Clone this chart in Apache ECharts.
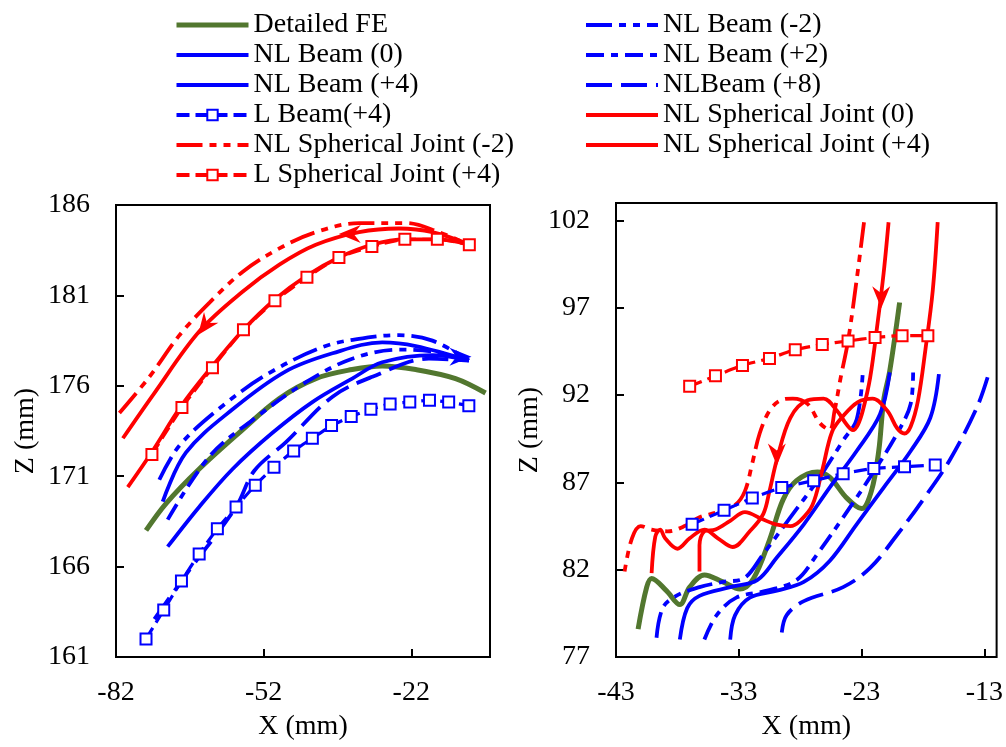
<!DOCTYPE html>
<html>
<head>
<meta charset="utf-8">
<script src="https://cdn.jsdelivr.net/npm/echarts@6/dist/echarts.min.js"></script>
<style>
html,body{margin:0;padding:0;background:#fff;}
#chart{width:1006px;height:747px;}
</style>
</head>
<body>
<div id="chart"></div>
<script>
// ---------- tick labels ----------
var xTicksL = [-82, -52, -22];
var yTicksL = [161, 166, 171, 176, 181, 186];
var xTicksR = [-43, -33, -23, -13];
var yTicksR = [77, 82, 87, 92, 97, 102];

// ---------- series names ----------
var names = ['Detailed FE', 'NL Beam (0)', 'NL Beam (+4)', 'L Beam(+4)', 'NL Spherical Joint (-2)', 'L Spherical Joint (+4)',
             'NL Beam (-2)', 'NL Beam (+2)', 'NLBeam (+8)', 'NL Spherical Joint (0)', 'NL Spherical Joint (+4)'];

// ---------- left panel data [X, Z] ----------
var feL = [[-75.9,168.0],[-71.8,169.5],[-65.1,171.4],[-57.0,173.4],[-48.8,175.3],[-41.4,176.4],[-34.0,176.9],[-27.9,177.1],[-21.1,176.9],[-13.0,176.4],[-6.9,175.6]];
var beamM2L = [[-73.2,170.8],[-69.1,172.7],[-60.3,174.9],[-50.9,176.7],[-39.4,178.2],[-29.9,178.7],[-24.5,178.8],[-17.7,178.5],[-10.3,177.4]];
var beam0L = [[-72.5,169.6],[-67.8,172.3],[-58.3,174.7],[-47.5,176.8],[-38.0,177.8],[-27.9,178.4],[-21.1,178.2],[-10.3,177.4]];
var beamP2L = [[-71.5,168.6],[-63.0,172.1],[-54.3,174.1],[-43.4,176.2],[-34.0,177.5],[-24.5,178.0],[-17.7,177.9],[-10.3,177.4]];
var beamP4L = [[-71.5,167.1],[-65.1,169.3],[-58.3,171.4],[-50.2,173.4],[-42.1,175.1],[-34.0,176.4],[-27.9,177.3],[-17.7,177.7],[-10.3,177.4]];
var beamP8L = [[-74.2,163.1],[-67.1,165.8],[-57.6,169.3],[-53.9,171.3],[-47.4,172.9],[-38.0,175.4],[-29.9,176.5],[-18.4,177.5],[-10.3,177.4]];
var lBeamL = [[-75.9,162.0],[-72.3,163.6],[-68.7,165.2],[-65.1,166.7],[-61.4,168.1],[-57.6,169.3],[-53.7,170.5],[-49.9,171.5],[-45.9,172.4],[-42.1,173.1],[-38.2,173.8],[-34.2,174.3],[-30.2,174.7],[-26.3,175.0],[-22.3,175.1],[-18.3,175.2],[-14.4,175.1],[-10.3,174.9]];
var sjM2L = [[-81.3,174.5],[-75.2,176.5],[-69.1,178.8],[-63.0,180.6],[-56.3,182.3],[-48.8,183.6],[-41.4,184.5],[-32.6,185.0],[-23.1,185.0],[-16.4,184.5],[-10.3,183.8]];
var sj0L = [[-80.6,173.1],[-74.2,175.6],[-65.1,179.0],[-56.3,181.2],[-48.8,182.7],[-41.4,183.8],[-32.6,184.5],[-24.5,184.7],[-17.7,184.5],[-10.0,183.8]];
var sjP4L = [[-79.6,170.4],[-74.8,172.3],[-68.7,174.9],[-62.4,177.1],[-56.1,179.1],[-49.6,180.8],[-43.2,182.1],[-36.7,183.1],[-30.0,183.8],[-23.3,184.1],[-16.7,184.1],[-10.1,183.8]];
var lSjL = [[-74.7,172.2],[-68.6,174.8],[-62.4,177.0],[-56.1,179.1],[-49.7,180.7],[-43.2,182.0],[-36.7,183.1],[-30.0,183.7],[-23.3,184.1],[-16.7,184.1],[-10.2,183.8]];

// ---------- right panel data [X, Z] ----------
var feR = [[-41.2,78.6],[-40.5,81.0],[-40.1,81.5],[-38.9,80.8],[-37.8,80.0],[-37.0,81.0],[-35.8,81.7],[-34.3,81.3],[-32.9,80.9],[-31.8,81.5],[-30.5,83.7],[-29.4,86.0],[-28.3,87.1],[-26.6,87.6],[-25.6,87.3],[-24.2,86.1],[-23.0,85.5],[-22.2,86.5],[-21.6,88.8],[-21.2,91.7],[-20.7,93.4],[-19.9,97.3]];
var beamM2R = [[-39.7,78.1],[-39.2,79.8],[-38.1,80.5],[-36.2,81.0],[-34.3,81.3],[-32.6,81.5],[-31.0,82.9],[-28.8,85.0],[-26.6,87.1],[-24.5,89.4],[-23.4,90.6],[-22.9,93.3]];
var beam0R = [[-37.8,78.0],[-37.2,79.8],[-36.2,80.5],[-33.7,81.0],[-31.5,81.4],[-29.9,82.7],[-27.7,84.6],[-25.6,86.7],[-23.4,88.8],[-21.5,90.9],[-20.7,93.3]];
var beamP2R = [[-35.8,78.0],[-34.8,79.4],[-33.2,80.4],[-30.7,80.8],[-28.3,81.4],[-26.6,82.9],[-24.5,85.0],[-22.3,87.3],[-20.1,89.8],[-19.0,91.5],[-18.8,93.3]];
var beamP4R = [[-33.7,78.0],[-33.3,79.4],[-32.1,80.4],[-29.9,80.8],[-27.7,81.3],[-25.6,82.5],[-23.4,84.6],[-21.2,86.7],[-19.0,88.8],[-17.4,90.7],[-16.7,93.2]];
var beamP8R = [[-29.5,78.4],[-29.1,79.4],[-27.7,80.2],[-24.5,81.0],[-22.3,82.1],[-20.1,84.0],[-18.0,86.0],[-15.8,88.3],[-13.6,91.3],[-12.7,93.1]];
var lBeamR = [[-36.8,84.6],[-34.2,85.4],[-31.9,86.1],[-29.5,86.7],[-26.9,87.1],[-24.5,87.5],[-22.0,87.8],[-19.5,87.9],[-17.0,88.0]];
var lSjR = [[-37.0,92.5],[-34.9,93.1],[-32.7,93.7],[-30.5,94.1],[-28.4,94.6],[-26.2,94.9],[-24.1,95.1],[-21.9,95.3],[-19.7,95.4],[-17.6,95.4]];
var sjM2R = [[-22.8,101.9],[-23.4,98.6],[-24.1,95.1],[-24.7,93.0],[-25.2,91.1],[-25.6,90.0],[-26.4,90.4],[-27.4,91.5],[-28.6,91.8],[-29.6,91.7],[-30.5,91.1],[-31.3,89.8],[-31.9,88.1],[-32.5,86.5],[-33.3,85.7],[-34.7,85.3],[-36.2,85.0],[-37.4,84.5],[-38.8,84.2],[-40.1,84.3],[-41.0,84.5],[-41.7,83.8],[-42.3,81.9]];
var sj0R = [[-20.8,101.9],[-21.2,99.0],[-21.7,96.1],[-22.3,93.0],[-22.9,91.1],[-23.3,90.3],[-23.7,90.0],[-24.2,90.3],[-25.0,91.1],[-26.1,91.8],[-27.4,91.7],[-28.8,90.7],[-29.9,88.3],[-30.5,86.5],[-31.0,85.2],[-32.1,84.2],[-33.5,83.3],[-34.7,83.8],[-35.8,84.3],[-37.0,83.8],[-38.0,83.2],[-39.0,83.8],[-39.4,84.3],[-39.8,83.9],[-40.1,81.8]];
var sjP4R = [[-16.8,101.9],[-17.2,98.0],[-17.8,94.6],[-18.4,91.7],[-19.0,90.2],[-19.5,89.8],[-20.1,90.1],[-20.9,91.1],[-22.1,91.8],[-23.3,91.6],[-24.5,90.8],[-25.4,89.9],[-26.2,87.7],[-27.0,85.7],[-28.0,84.8],[-28.8,84.5],[-30.0,84.6],[-31.1,84.9],[-32.5,85.3],[-33.7,84.8],[-34.9,84.3],[-35.8,84.2],[-36.2,83.4],[-36.2,81.9]];

// ---------- direction arrows [X, Z, rotation deg] ----------
var arrowsL = [[-64.0, 179.3, 143], [-34.5, 184.4, 90]];
var arrowsBlueL = [[-12.0, 177.6, -90]];
var arrowsR = [[-21.4, 97.6, 180], [-29.9, 88.6, 180]];

// ---------- styles ----------
var BLUE = '#0000FF', RED = '#FF0000', GREEN = '#52772F';
var DASH_DDOT = [26, 7, 7, 7, 7, 7];
var DASH_DOT = [18, 7, 7, 7];
var DASH_LONG = [26, 9];
var DASH_SHORT = [13, 6];
var FONT = 'Liberation Serif';
var ARROW = 'path://M0,0 L9,22 L0,15 L-9,22 Z';
var LW = 3.8;

function arrowMarks(list, color) {
  return {
    symbol: ARROW, symbolSize: [18, 22], silent: true,
    itemStyle: {color: color},
    label: {show: false},
    data: list.map(function (a) { return {coord: [a[0], a[1]], symbolRotate: a[2]}; })
  };
}

function line(name, data, idx, color, width, dash, withSquares) {
  var s = {
    name: name, type: 'line', xAxisIndex: idx, yAxisIndex: idx, data: data,
    smooth: 0.35, z: 3,
    lineStyle: {color: color, width: width, type: dash || 'solid'},
    itemStyle: {color: color},
    symbol: 'none', animation: false
  };
  if (withSquares) {
    s.symbol = 'rect'; s.symbolSize = 11; s.showSymbol = true; s.smooth = 0.2;
    s.itemStyle = {color: '#fff', borderColor: color, borderWidth: 2};
    s.z = 4;
  }
  return s;
}

var series = [];
// left
series.push(line(names[0], feL, 0, GREEN, 5));
series.push(line(names[6], beamM2L, 0, BLUE, LW, DASH_DDOT));
series.push(line(names[1], beam0L, 0, BLUE, LW));
series.push(line(names[7], beamP2L, 0, BLUE, LW, DASH_DOT));
var b4L = line(names[2], beamP4L, 0, BLUE, LW);
b4L.markPoint = arrowMarks(arrowsBlueL, BLUE);
series.push(b4L);
series.push(line(names[8], beamP8L, 0, BLUE, LW, DASH_LONG));
series.push(line(names[3], lBeamL, 0, BLUE, 3.2, DASH_SHORT, true));
series.push(line(names[4], sjM2L, 0, RED, LW, DASH_DDOT));
var s0L = line(names[9], sj0L, 0, RED, LW);
s0L.markPoint = arrowMarks(arrowsL, RED);
series.push(s0L);
series.push(line(names[10], sjP4L, 0, RED, LW));
series.push(line(names[5], lSjL, 0, RED, 3.2, DASH_SHORT, true));
// right
series.push(line(names[0], feR, 1, GREEN, 5));
series.push(line(names[6], beamM2R, 1, BLUE, LW, DASH_DDOT));
series.push(line(names[1], beam0R, 1, BLUE, LW));
series.push(line(names[7], beamP2R, 1, BLUE, LW, DASH_DOT));
series.push(line(names[2], beamP4R, 1, BLUE, LW));
series.push(line(names[8], beamP8R, 1, BLUE, LW, DASH_LONG));
series.push(line(names[3], lBeamR, 1, BLUE, 3.2, DASH_SHORT, true));
series.push(line(names[4], sjM2R, 1, RED, LW, DASH_DDOT));
var s0R = line(names[9], sj0R, 1, RED, LW);
s0R.markPoint = arrowMarks(arrowsR, RED);
series.push(s0R);
series.push(line(names[10], sjP4R, 1, RED, LW));
series.push(line(names[5], lSjR, 1, RED, 3.2, DASH_SHORT, true));

var txt = {color: '#000', fontFamily: FONT, fontSize: 28};

function xAxis(idx, min, max, ticks) {
  return {
    type: 'value', gridIndex: idx, min: min, max: max,
    name: 'X (mm)', nameLocation: 'middle', nameGap: 56,
    nameTextStyle: txt,
    axisLine: {show: false},
    axisTick: {inside: true, length: 8, lineStyle: {color: '#000', width: 2}, customValues: ticks},
    axisLabel: Object.assign({margin: 22, customValues: ticks}, txt),
    splitLine: {show: false}
  };
}
function yAxis(idx, min, max, ticks, gap) {
  return {
    type: 'value', gridIndex: idx, min: min, max: max,
    name: 'Z (mm)', nameLocation: 'middle', nameGap: gap, nameRotate: 90,
    nameTextStyle: txt,
    axisLine: {show: false},
    axisTick: {inside: true, length: 8, lineStyle: {color: '#000', width: 2}, customValues: ticks},
    axisLabel: Object.assign({margin: 26, customValues: ticks}, txt),
    splitLine: {show: false}
  };
}

function legendItems(list) {
  return list.map(function (n) {
    var it = {name: n, lineStyle: {width: n === names[0] ? 5 : 4}};
    if (n !== names[3] && n !== names[5]) it.itemStyle = {opacity: 0};
    return it;
  });
}
var legendText = {color: '#000', fontFamily: FONT, fontSize: 28, lineHeight: 28};
var option = {
  animation: false,
  backgroundColor: '#fff',
  legend: [
    {orient: 'vertical', left: 169, top: 6, itemWidth: 72, itemHeight: 13, itemGap: 2,
     textStyle: legendText, selectedMode: false,
     data: legendItems([names[0], names[1], names[2], names[3], names[4], names[5]])},
    {orient: 'vertical', left: 579, top: 6, itemWidth: 72, itemHeight: 13, itemGap: 2,
     textStyle: legendText, selectedMode: false,
     data: legendItems([names[6], names[7], names[8], names[9], names[10]])}
  ],
  grid: [
    {left: 116, top: 205, width: 374, height: 452, show: true, borderColor: '#000', borderWidth: 2, backgroundColor: 'transparent'},
    {left: 616, top: 203, width: 381, height: 454, show: true, borderColor: '#000', borderWidth: 2, backgroundColor: 'transparent'}
  ],
  xAxis: [xAxis(0, -82, -6, xTicksL), xAxis(1, -43, -12, xTicksR)],
  yAxis: [yAxis(0, 161, 186, yTicksL, 76), yAxis(1, 77, 103, yTicksR, 50)],
  series: series
};

var chart = echarts.init(document.getElementById('chart'), null, {renderer: 'canvas'});
chart.setOption(option);
</script>
</body>
</html>
